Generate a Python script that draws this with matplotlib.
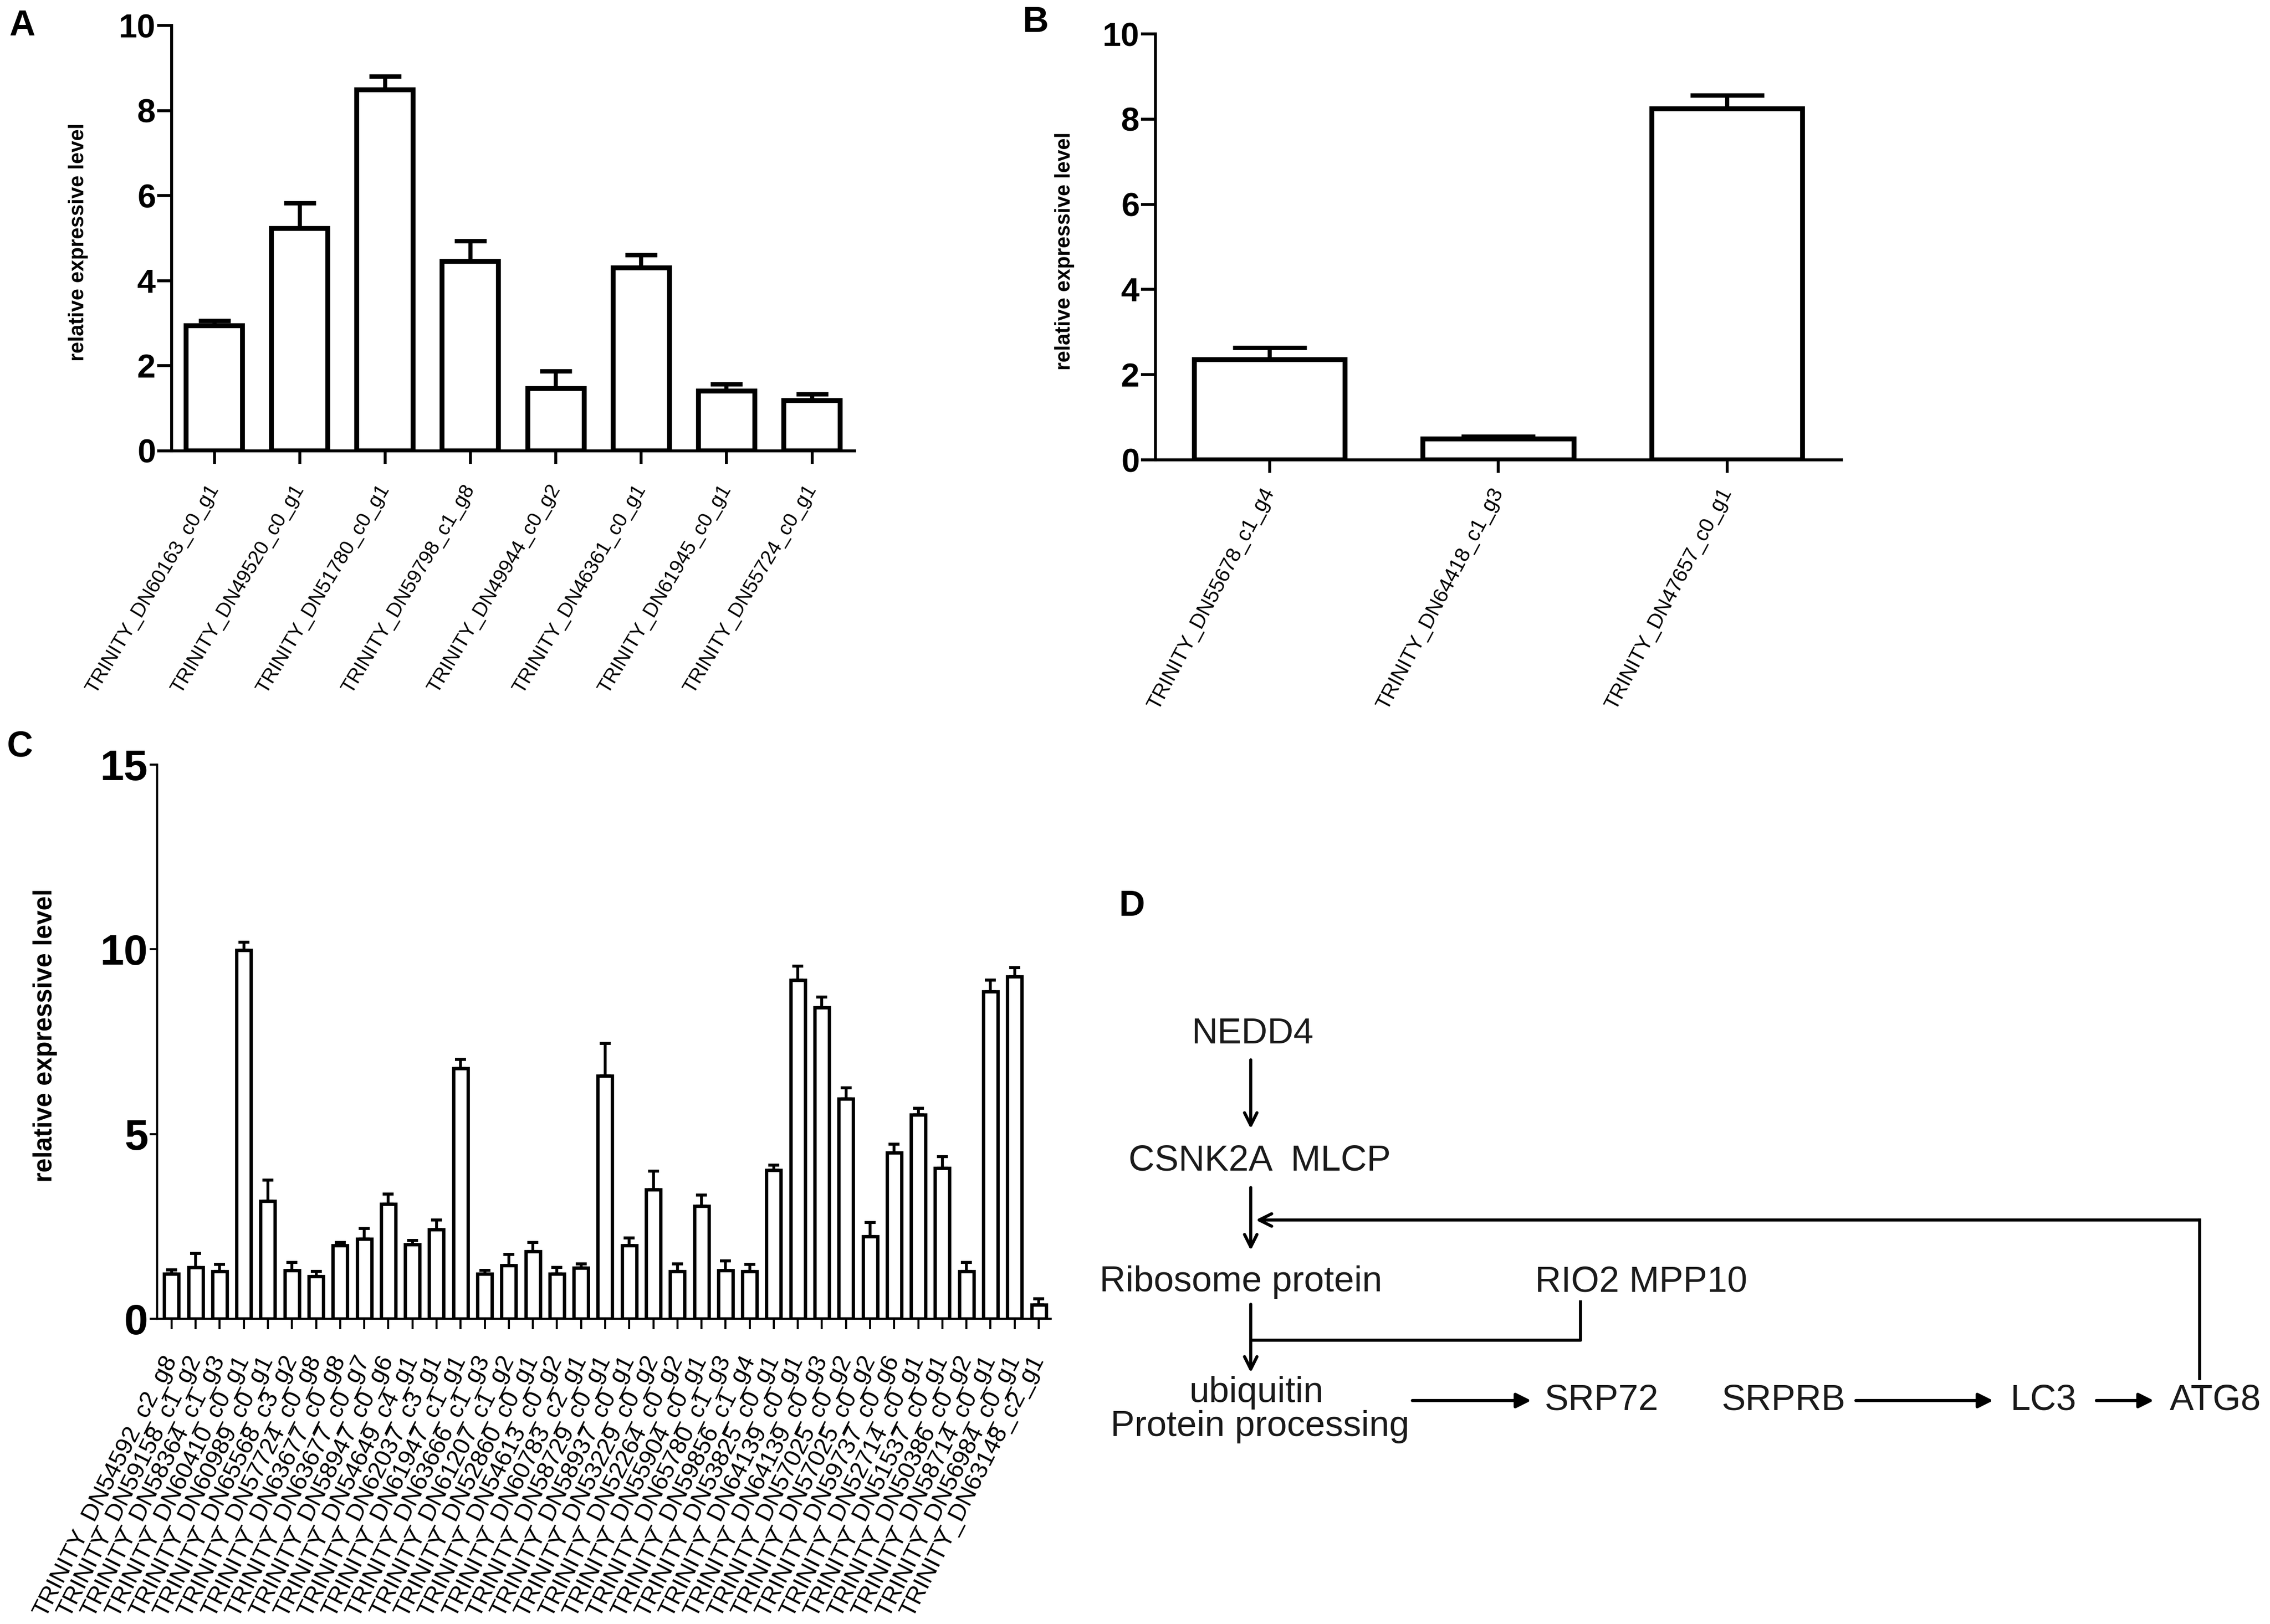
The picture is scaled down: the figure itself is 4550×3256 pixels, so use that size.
import numpy as np
import matplotlib
matplotlib.use("Agg")
from matplotlib import pyplot as plt
from matplotlib.transforms import Bbox

plt.rcParams['font.family'] = ['Liberation Sans', 'DejaVu Sans']

# ---- data ----
a_labels = ["TRINITY_DN60163_c0_g1", "TRINITY_DN49520_c0_g1", "TRINITY_DN51780_c0_g1",
            "TRINITY_DN59798_c1_g8", "TRINITY_DN49944_c0_g2", "TRINITY_DN46361_c0_g1",
            "TRINITY_DN61945_c0_g1", "TRINITY_DN55724_c0_g1"]
a_vals = [2.94, 5.23, 8.49, 4.45, 1.47, 4.30, 1.40, 1.18]
a_err = [0.12, 0.60, 0.32, 0.48, 0.40, 0.31, 0.17, 0.16]

b_labels = ["TRINITY_DN55678_c1_g4", "TRINITY_DN64418_c1_g3", "TRINITY_DN47657_c0_g1"]
b_vals = [2.36, 0.49, 8.24]
b_err = [0.27, 0.06, 0.32]

c_labels = ["TRINITY_DN54592_c2_g8", "TRINITY_DN59158_c1_g2", "TRINITY_DN58364_c1_g3",
            "TRINITY_DN60410_c0_g1", "TRINITY_DN60989_c0_g1", "TRINITY_DN65568_c3_g2",
            "TRINITY_DN57724_c0_g8", "TRINITY_DN63677_c0_g8", "TRINITY_DN63677_c0_g7",
            "TRINITY_DN58947_c0_g6", "TRINITY_DN54649_c4_g1", "TRINITY_DN62037_c3_g1",
            "TRINITY_DN61947_c1_g1", "TRINITY_DN63666_c1_g3", "TRINITY_DN61207_c1_g2",
            "TRINITY_DN52860_c0_g1", "TRINITY_DN54613_c0_g2", "TRINITY_DN60783_c2_g1",
            "TRINITY_DN58729_c0_g1", "TRINITY_DN58937_c0_g1", "TRINITY_DN53229_c0_g2",
            "TRINITY_DN52264_c0_g2", "TRINITY_DN55904_c0_g1", "TRINITY_DN65780_c1_g3",
            "TRINITY_DN59856_c1_g4", "TRINITY_DN53825_c0_g1", "TRINITY_DN64139_c0_g1",
            "TRINITY_DN64139_c0_g3", "TRINITY_DN57025_c0_g2", "TRINITY_DN57025_c0_g2",
            "TRINITY_DN59737_c0_g6", "TRINITY_DN52714_c0_g1", "TRINITY_DN51537_c0_g1",
            "TRINITY_DN50386_c0_g2", "TRINITY_DN58714_c0_g1", "TRINITY_DN56984_c0_g1",
            "TRINITY_DN63148_c2_g1"]
c_vals = [1.22, 1.39, 1.28, 9.98, 3.19, 1.31, 1.15, 1.98, 2.16, 3.10, 2.01, 2.41, 6.78,
          1.22, 1.44, 1.82, 1.22, 1.38, 6.57, 1.98, 3.49, 1.28, 3.05, 1.31, 1.28, 4.02,
          9.17, 8.43, 5.95, 2.22, 4.50, 5.52, 4.07, 1.28, 8.86, 9.26, 0.38]
c_err = [0.10, 0.38, 0.19, 0.21, 0.56, 0.22, 0.13, 0.08, 0.28, 0.28, 0.11, 0.26, 0.24,
         0.09, 0.30, 0.24, 0.17, 0.10, 0.88, 0.21, 0.51, 0.21, 0.30, 0.25, 0.19, 0.14,
         0.38, 0.28, 0.30, 0.38, 0.23, 0.18, 0.32, 0.25, 0.31, 0.25, 0.16]

# pathway diagram (panel D): node text and positions in pixel coords
d_nodes = {
    "NEDD4": (2510, 2073),
    "CSNK2A  MLCP": (2525, 2328),
    "Ribosome protein": (2487, 2571),
    "RIO2 MPP10": (3290, 2571),
    "ubiquitin": (2518, 2792),
    "Protein processing": (2525, 2860),
    "SRP72": (3210, 2808),
    "SRPRB": (3575, 2808),
    "LC3": (4095, 2808),
    "ATG8": (4440, 2808),
}


def bar_panel(ax, labels, vals, err, width, lw, capsize, ylim, yticks,
              tick_fs, lab_fs, rot, pad, spine_lw, ylen, xlen):
    x = np.arange(len(vals))
    ax.errorbar(x, vals, yerr=[np.zeros(len(vals)), err], fmt='none', ecolor='black',
                elinewidth=lw * 0.85, capsize=capsize, capthick=lw * 0.9, zorder=1)
    ax.bar(x, vals, width=width, color='white', edgecolor='black', linewidth=lw, zorder=2)
    ax.set_ylim(ylim)
    ax.set_yticks(yticks)
    ax.set_xticks(x)
    ax.set_xticklabels(labels, rotation=rot, ha='right', va='center',
                       rotation_mode='anchor', fontsize=lab_fs)
    for t in ax.get_yticklabels():
        t.set_fontsize(tick_fs)
        t.set_fontweight('bold')
    for s in ['top', 'right']:
        ax.spines[s].set_visible(False)
    for s in ['left', 'bottom']:
        ax.spines[s].set_linewidth(spine_lw)
    ax.tick_params(axis='y', direction='out', length=ylen, width=spine_lw, pad=2)
    ax.tick_params(axis='x', direction='out', length=xlen, width=spine_lw, pad=pad)


fig = plt.figure(figsize=(45.5, 32.56), dpi=100)

# ---- A ----
axA = fig.add_axes([0.0756, 0.7224, 0.3009, 0.2619])
bar_panel(axA, a_labels, a_vals, a_err, 0.66, 7, 23, (0, 10), [0, 2, 4, 6, 8, 10],
          48, 29, 59, 32, 4.2, 21, 19)
axA.set_xlim(-0.5, 7.5)
axA.set_ylabel("relative expressive level", fontsize=30, fontweight='bold')
axA.yaxis.set_label_coords(0.0389, 0.851, transform=fig.transFigure)

# ---- B ----
axB = fig.add_axes([0.5090, 0.7168, 0.3022, 0.2623])
bar_panel(axB, b_labels, b_vals, b_err, 0.66, 7, 53, (0, 10), [0, 2, 4, 6, 8, 10],
          48, 30, 62, 24, 4.2, 21, 19)
axB.set_xlim(-0.5, 2.5)
axB.set_ylabel("relative expressive level", fontsize=30, fontweight='bold')
axB.yaxis.set_label_coords(0.4734, 0.8455, transform=fig.transFigure)
# first label is cut at the panel edge in the original figure
first = axB.get_xticklabels()[0]
first.set_clip_on(True)
first.set_clip_box(Bbox.from_extents(2295, 0, 4550, 3256))

# ---- C ----
axC = fig.add_axes([0.0692, 0.1880, 0.3937, 0.3412])
bar_panel(axC, c_labels, c_vals, c_err, 0.6, 4.8, 8, (0, 15), [0, 5, 10, 15],
          62, 35, 63, 40, 3, 11, 15)
axC.set_xlim(-0.6, 36.5)
axC.set_ylabel("relative expressive level", fontsize=37, fontweight='bold')
axC.yaxis.set_label_coords(0.0253, 0.3624, transform=fig.transFigure)

# ---- panel letters ----
for letter, (px, py) in {"A": (44, 52), "B": (2075, 45), "C": (40, 1497), "D": (2268, 1817)}.items():
    fig.text(px / 4550, 1 - py / 3256, letter, fontsize=52, fontweight='bold',
             ha='center', va='center')

# ---- D : pathway ----
axD = fig.add_axes([0, 0, 1, 1], zorder=-1)
axD.set_xlim(0, 4550)
axD.set_ylim(3256, 0)
axD.axis('off')
axD.patch.set_alpha(0)

for name, (px, py) in d_nodes.items():
    axD.text(px, py, name, fontsize=52, ha='center', va='center', color='#1a1a1a')

arrow_kw = dict(arrowstyle='->', lw=4.5, color='black', mutation_scale=45,
                shrinkA=0, shrinkB=0)
# vertical arrows
axD.annotate("", xy=(2507, 2263), xytext=(2507, 2125), arrowprops=arrow_kw)
axD.annotate("", xy=(2507, 2507), xytext=(2507, 2381), arrowprops=arrow_kw)
axD.annotate("", xy=(2507, 2752), xytext=(2507, 2615), arrowprops=arrow_kw)
# RIO2 MPP10 joins the ribosome line
axD.plot([3168, 3168, 2507], [2607, 2687, 2687], color='black', lw=4.5, solid_capstyle='butt')
# feedback from ATG8
axD.plot([4409, 4409], [2764, 2446], color='black', lw=4.5)
axD.annotate("", xy=(2517, 2446), xytext=(4409, 2446), arrowprops=arrow_kw)
# horizontal arrows
arrow_kw2 = dict(arrow_kw, arrowstyle='-|>')
axD.annotate("", xy=(3069, 2808), xytext=(2831, 2808), arrowprops=arrow_kw2)
axD.annotate("", xy=(3995, 2808), xytext=(3720, 2808), arrowprops=arrow_kw2)
axD.annotate("", xy=(4317, 2808), xytext=(4202, 2808), arrowprops=arrow_kw2)

plt.savefig("out.png", dpi=100)
